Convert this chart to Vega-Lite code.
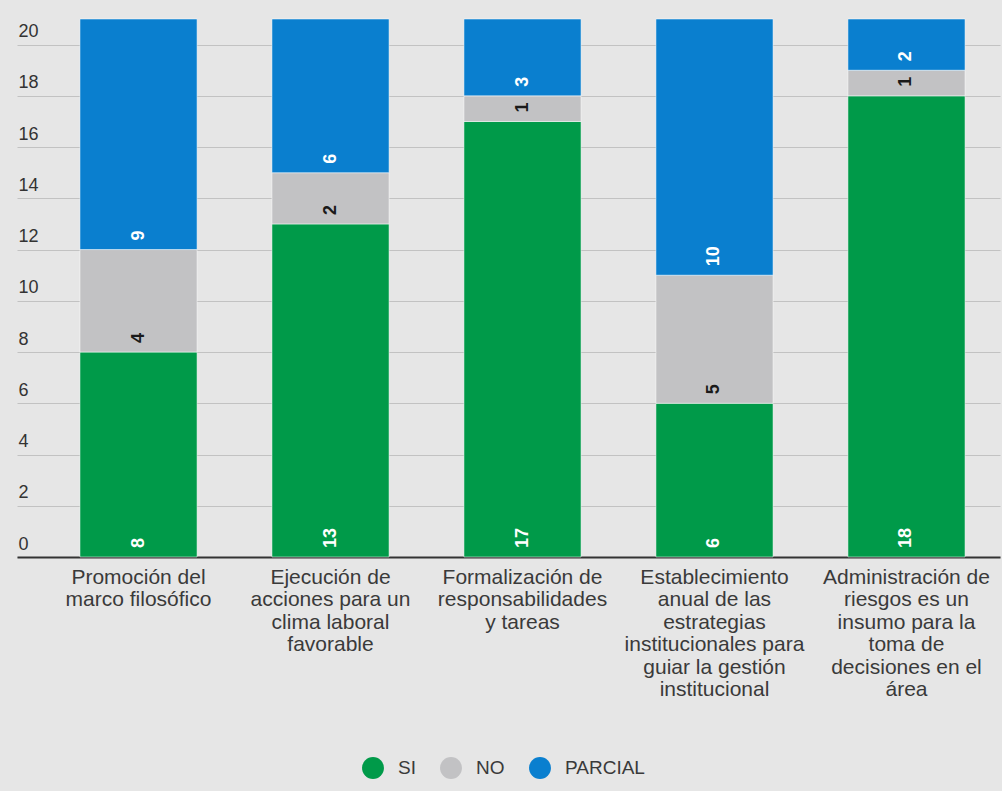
{
  "$schema": "https://vega.github.io/schema/vega-lite/v6.json",
  "width": 983,
  "height": 538,
  "autosize": {"type": "none"},
  "padding": {"left": 17, "top": 19, "right": 2, "bottom": 234},
  "background": "#e6e6e6",
  "config": {
    "font": "Liberation Sans",
    "view": {"stroke": null, "fill": "#e6e6e6"}
  },
  "data": {
    "values": [
      {"cat": "Promoción del|marco filosófico", "serie": "SI", "value": 8},
      {"cat": "Promoción del|marco filosófico", "serie": "NO", "value": 4},
      {"cat": "Promoción del|marco filosófico", "serie": "PARCIAL", "value": 9},
      {"cat": "Ejecución de|acciones para un|clima laboral|favorable", "serie": "SI", "value": 13},
      {"cat": "Ejecución de|acciones para un|clima laboral|favorable", "serie": "NO", "value": 2},
      {"cat": "Ejecución de|acciones para un|clima laboral|favorable", "serie": "PARCIAL", "value": 6},
      {"cat": "Formalización de|responsabilidades|y tareas", "serie": "SI", "value": 17},
      {"cat": "Formalización de|responsabilidades|y tareas", "serie": "NO", "value": 1},
      {"cat": "Formalización de|responsabilidades|y tareas", "serie": "PARCIAL", "value": 3},
      {"cat": "Establecimiento|anual de las|estrategias|institucionales para|guiar la gestión|institucional", "serie": "SI", "value": 6},
      {"cat": "Establecimiento|anual de las|estrategias|institucionales para|guiar la gestión|institucional", "serie": "NO", "value": 5},
      {"cat": "Establecimiento|anual de las|estrategias|institucionales para|guiar la gestión|institucional", "serie": "PARCIAL", "value": 10},
      {"cat": "Administración de|riesgos es un|insumo para la|toma de|decisiones en el|área", "serie": "SI", "value": 18},
      {"cat": "Administración de|riesgos es un|insumo para la|toma de|decisiones en el|área", "serie": "NO", "value": 1},
      {"cat": "Administración de|riesgos es un|insumo para la|toma de|decisiones en el|área", "serie": "PARCIAL", "value": 2}
    ]
  },
  "transform": [
    {"stack": "value", "groupby": ["cat"], "as": ["v0", "v1"]}
  ],
  "encoding": {
    "x": {
      "field": "cat",
      "type": "nominal",
      "sort": null,
      "scale": {"paddingInner": 0.39, "paddingOuter": 0.255, "align": 0.643},
      "axis": {
        "title": null,
        "labelExpr": "split(datum.label, '|')",
        "labelAngle": 0,
        "labelFontSize": 21,
        "labelLineHeight": 22.5,
        "labelColor": "#3a3a3a",
        "labelBaseline": "top",
        "labelPadding": 9,
        "labelLimit": 400,
        "ticks": false,
        "tickSize": 0,
        "domainColor": "#333333",
        "domainWidth": 2
      }
    }
  },
  "layer": [
    {
      "mark": {"type": "bar", "stroke": "#ffffff", "strokeWidth": 1, "strokeOpacity": 0.5},
      "encoding": {
        "y": {
          "field": "v0",
          "type": "quantitative",
          "scale": {"domain": [0, 21], "nice": false},
          "axis": {
            "title": null,
            "values": [0, 2, 4, 6, 8, 10, 12, 14, 16, 18, 20],
            "grid": true,
            "gridColor": "#c2c2c2",
            "gridWidth": 1,
            "domain": false,
            "ticks": false,
            "tickSize": 0,
            "labelAlign": "left",
            "labelBaseline": "alphabetic",
            "labelPadding": -1,
            "labelOffset": -8,
            "labelFontSize": 18,
            "labelColor": "#333333"
          }
        },
        "y2": {"field": "v1"},
        "color": {
          "field": "serie",
          "type": "nominal",
          "scale": {"domain": ["SI", "NO", "PARCIAL"], "range": ["#009a49", "#c2c2c4", "#0a7fcf"]},
          "legend": {
            "title": null,
            "orient": "none",
            "legendX": 345,
            "legendY": 738,
            "direction": "horizontal",
            "symbolType": "circle",
            "symbolSize": 480,
            "symbolStrokeWidth": 0,
            "labelFontSize": 19,
            "labelColor": "#3a3a3a",
            "labelOffset": 14,
            "columnPadding": 24
          }
        }
      }
    },
    {
      "mark": {"type": "text", "angle": 270, "align": "left", "baseline": "middle", "dx": 9, "fontSize": 18, "fontWeight": "bold"},
      "encoding": {
        "y": {"field": "v0", "type": "quantitative"},
        "text": {"field": "value", "type": "quantitative"},
        "color": {
          "condition": {"test": "datum.serie === 'NO'", "value": "#1a1a1a"},
          "value": "#ffffff"
        }
      }
    }
  ]
}
